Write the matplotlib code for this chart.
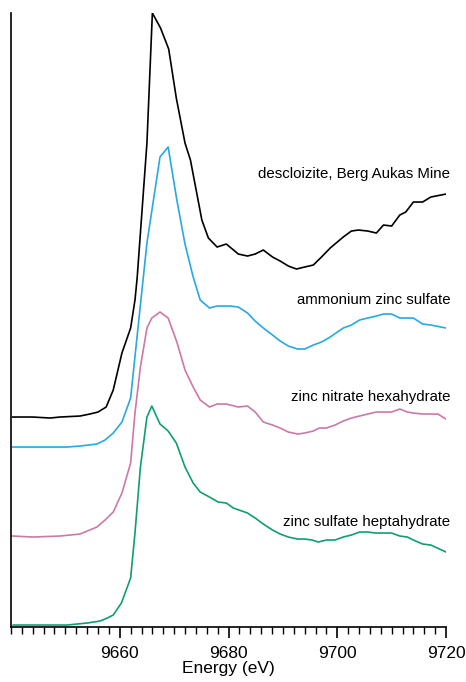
import numpy as np
import matplotlib
matplotlib.use('Agg')
import matplotlib.pyplot as plt
from matplotlib.ticker import MultipleLocator

plt.rcParams['font.family'] = ['Liberation Sans', 'DejaVu Sans']

# ── Data (normalised absorbance, stacked with offsets as in the figure) ──────
desc_e = [9640.3, 9644, 9647.2, 9649, 9652.7, 9654.5, 9656, 9657.5, 9658.8, 9660.4,
          9662, 9662.8, 9663.2, 9665, 9666, 9667.5, 9669, 9670.4, 9672, 9673,
          9675.1, 9676.3, 9677.9, 9679.6, 9681.8, 9683.5, 9684.9, 9686.4, 9688.1, 9689.5,
          9691, 9692.5, 9694, 9695.6, 9697.1, 9698.7, 9701.1, 9702.6, 9703.9, 9705.6,
          9707.2, 9708.5, 9710, 9711.5, 9712.6, 9714, 9715.7, 9717.2, 9720]
desc_y = [2.10, 2.10, 2.09, 2.10, 2.11, 2.13, 2.15, 2.20, 2.37, 2.74,
          2.99, 3.27, 3.49, 4.84, 6.14, 5.99, 5.78, 5.29, 4.84, 4.67,
          4.07, 3.89, 3.80, 3.83, 3.73, 3.71, 3.73, 3.77, 3.70, 3.66,
          3.61, 3.58, 3.60, 3.62, 3.70, 3.79, 3.90, 3.96, 3.97, 3.96,
          3.94, 4.02, 4.01, 4.12, 4.15, 4.25, 4.25, 4.30, 4.33]

azs_e = [9640.3, 9644, 9650.3, 9652.7, 9655.8, 9657.3, 9658.8, 9660.4, 9662, 9663.7,
         9665, 9667.4, 9668.9, 9670.5, 9672, 9673.5, 9674.8, 9676.5, 9677.9, 9680.3,
         9681.8, 9683.5, 9684.9, 9686.4, 9688.1, 9689.5, 9691, 9692.7, 9694, 9695.6,
         9697.1, 9698.7, 9701.1, 9702.6, 9704.1, 9705.6, 9707.2, 9708.5, 9710, 9711.5,
         9714, 9715.7, 9717.2, 9720]
azs_y = [1.80, 1.80, 1.80, 1.81, 1.83, 1.87, 1.94, 2.05, 2.29, 3.17,
         3.84, 4.70, 4.80, 4.27, 3.83, 3.50, 3.27, 3.19, 3.21, 3.21,
         3.20, 3.14, 3.06, 2.99, 2.92, 2.86, 2.81, 2.78, 2.78, 2.82,
         2.85, 2.90, 2.99, 3.02, 3.07, 3.09, 3.11, 3.13, 3.13, 3.09,
         3.09, 3.03, 3.02, 2.99]

znn_e = [9640.3, 9644, 9649, 9652.7, 9655.8, 9657.3, 9658.8, 9660.4, 9662, 9662.8,
         9663.8, 9665, 9665.9, 9667.4, 9668.9, 9670.5, 9672, 9673.5, 9674.8, 9676.5,
         9677.9, 9679.6, 9681.8, 9683.5, 9684.9, 9686.4, 9688.1, 9689.5, 9691, 9692.7,
         9694, 9695.6, 9696.7, 9698, 9699.6, 9701.1, 9702.6, 9704.1, 9705.6, 9707.2,
         9708.5, 9710, 9711.5, 9712.9, 9714, 9715.7, 9717.2, 9718.5, 9720]
znn_y = [0.91, 0.90, 0.91, 0.93, 1.00, 1.07, 1.15, 1.34, 1.64, 2.14,
         2.60, 2.99, 3.09, 3.15, 3.09, 2.85, 2.57, 2.40, 2.27, 2.20,
         2.23, 2.23, 2.20, 2.21, 2.15, 2.05, 2.02, 1.99, 1.95, 1.93,
         1.94, 1.96, 1.99, 1.99, 2.02, 2.06, 2.09, 2.11, 2.13, 2.15,
         2.15, 2.15, 2.18, 2.15, 2.14, 2.13, 2.13, 2.13, 2.08]

zns_e = [9640.4, 9650.3, 9654, 9656.4, 9657.7, 9658.8, 9660.3, 9662, 9662.8, 9663.8,
         9665, 9665.9, 9667.4, 9668.9, 9670.4, 9672, 9673.5, 9674.8, 9676.5, 9678.1,
         9679.6, 9680.9, 9683.5, 9684.9, 9686.4, 9688.1, 9689.5, 9691, 9692.7, 9694,
         9695.4, 9696.5, 9698, 9699.6, 9701.1, 9702.6, 9704.1, 9705.6, 9707, 9708.5,
         9710, 9711.5, 9712.9, 9714, 9715.7, 9717.2, 9720]
zns_y = [0.02, 0.02, 0.04, 0.06, 0.09, 0.12, 0.24, 0.49, 0.94, 1.60,
         2.10, 2.21, 2.03, 1.96, 1.84, 1.60, 1.44, 1.35, 1.30, 1.25,
         1.24, 1.19, 1.14, 1.09, 1.03, 0.97, 0.93, 0.90, 0.88, 0.88,
         0.87, 0.85, 0.87, 0.87, 0.90, 0.92, 0.95, 0.95, 0.94, 0.94,
         0.94, 0.91, 0.90, 0.87, 0.83, 0.82, 0.75]

series = [
    (desc_e, desc_y, 'black', 'descloizite, Berg Aukas Mine', 4.53),
    (azs_e, azs_y, '#27a9e1', 'ammonium zinc sulfate', 3.27),
    (znn_e, znn_y, '#cc79a7', 'zinc nitrate hexahydrate', 2.30),
    (zns_e, zns_y, '#0f9e73', 'zinc sulfate heptahydrate', 1.05),
]

fig = plt.figure(figsize=(4.66, 6.82), dpi=100)
ax = fig.add_axes([0.0236, 0.0806, 0.9335, 0.9003])

for e, y, c, name, ylab in series:
    ax.plot(e, y, color=c, lw=1.2)
    ax.text(9720.8, ylab, name, ha='right', va='center', fontsize=10.8, color='black')

ax.set_xlim(9640, 9720)
ax.set_ylim(0, 6.14)
ax.xaxis.set_major_locator(MultipleLocator(20))
ax.xaxis.set_minor_locator(MultipleLocator(2))
ax.set_xticks([9660, 9680, 9700, 9720])
ax.tick_params(axis='x', which='major', length=7.7, width=1.2, labelsize=12.5, pad=6)
ax.tick_params(axis='x', which='minor', length=4.8, width=1.0)
ax.set_yticks([])
for s in ('top', 'right'):
    ax.spines[s].set_visible(False)
ax.spines['left'].set_linewidth(1.2)
ax.spines['bottom'].set_linewidth(1.2)
ax.set_xlabel('Energy (eV)', fontsize=12.5, labelpad=0)

plt.savefig('out.png', dpi=100)
